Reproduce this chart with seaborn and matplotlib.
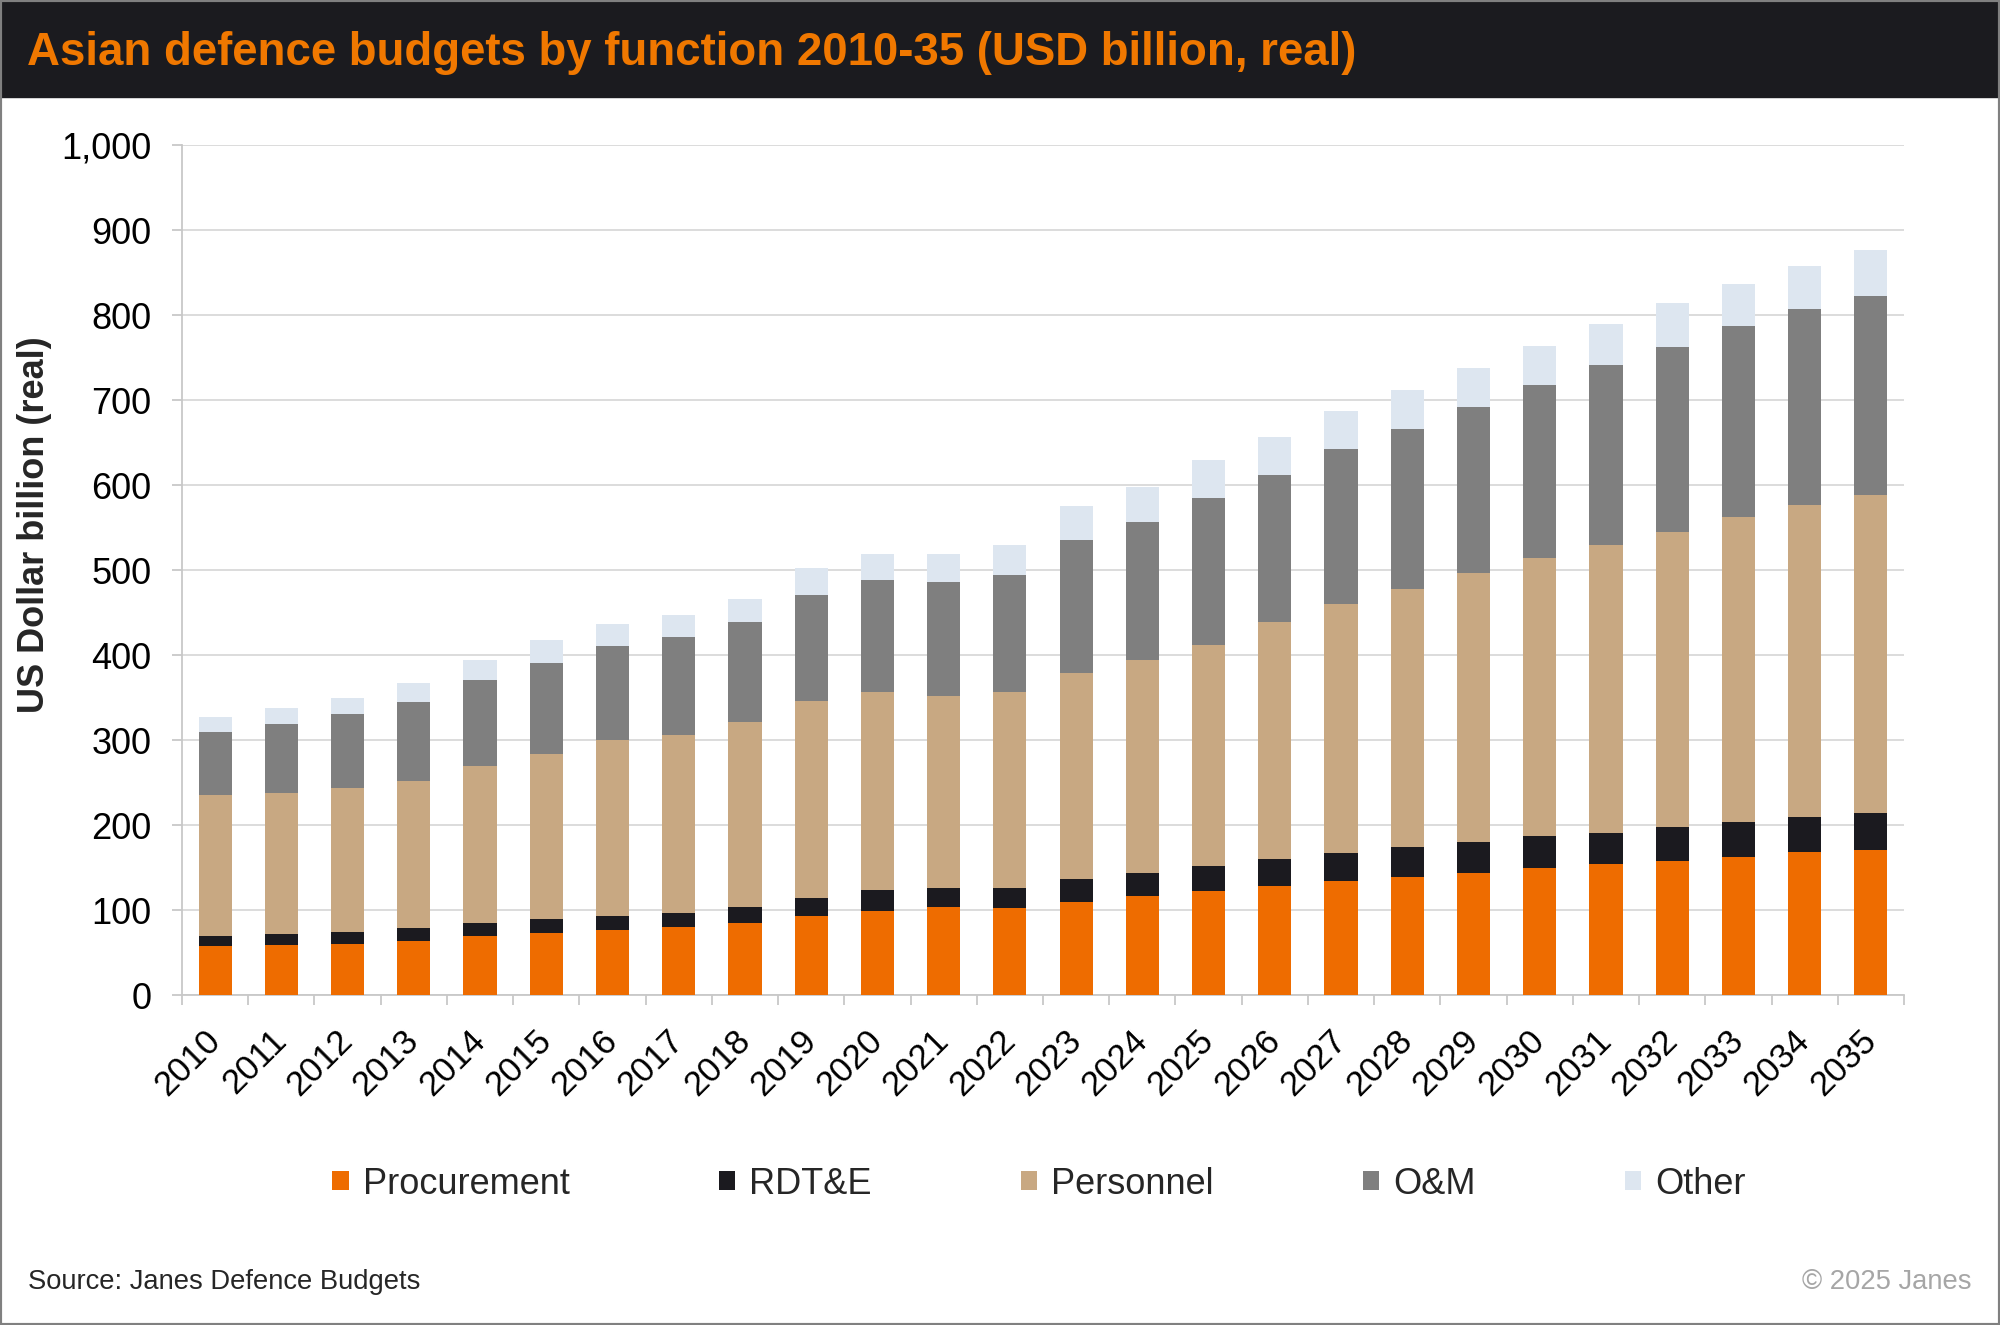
import matplotlib
matplotlib.use("Agg")
import matplotlib.pyplot as plt
from matplotlib.patches import Rectangle, Patch
from matplotlib.ticker import FuncFormatter, MultipleLocator
import numpy as np
import pandas as pd
import seaborn as sns

# values (USD billion, real)
years = [str(y) for y in range(2010, 2036)]
procurement = [58, 59, 60, 64, 69, 73, 77, 80, 85, 93, 99, 104, 102,
               110, 117, 122, 128, 134, 139, 144, 149, 154, 158, 163, 168, 171]
rdte = [12, 13, 14, 15, 16, 16, 16, 17, 19, 21, 25, 22, 24,
        27, 27, 30, 32, 33, 35, 36, 38, 37, 40, 41, 41, 43]
personnel = [165, 166, 170, 173, 184, 195, 207, 209, 217, 232, 232, 226, 230,
             242, 250, 260, 279, 293, 304, 317, 327, 339, 347, 358, 368, 374]
om = [75, 81, 87, 93, 102, 107, 111, 115, 118, 125, 132, 134, 138,
      156, 163, 173, 173, 182, 188, 195, 204, 211, 218, 225, 230, 235]
other = [17, 19, 19, 22, 23, 27, 25, 26, 27, 31, 31, 33, 36,
         40, 41, 44, 44, 45, 46, 46, 46, 48, 51, 50, 51, 53]

series = ["Procurement", "RDT&E", "Personnel", "O&M", "Other"]
colors = ["#EE6C00", "#1B1A1F", "#C8A882", "#7F7F7F", "#DDE6F0"]

df = pd.DataFrame({"year": years, "Procurement": procurement, "RDT&E": rdte,
                   "Personnel": personnel, "O&M": om, "Other": other})
cum = df[series].cumsum(axis=1)

sns.set_theme(style="white")
plt.rcParams["font.family"] = ["Liberation Sans", "DejaVu Sans"]

fig = plt.figure(figsize=(20, 13.25), dpi=100)
ax = fig.add_axes([0.091, 0.249, 0.861, 0.6415])

# stacked bars: draw cumulative totals from the top segment down
for name, col in reversed(list(zip(series, colors))):
    sns.barplot(x=df["year"], y=cum[name], color=col, width=0.5,
                linewidth=0, saturation=1, ax=ax, zorder=3)

ax.set_ylim(0, 1000)
ax.set_xlim(-0.5, len(years) - 0.5)
ax.yaxis.set_major_locator(MultipleLocator(100))
ax.yaxis.set_major_formatter(FuncFormatter(lambda v, p: f"{int(v):,}"))
ax.grid(axis="y", color="#D9D9D9", linewidth=1.3, zorder=0)
ax.set_axisbelow(True)
ax.set_xlabel("")
ax.set_ylabel("")

for s in ["top", "right"]:
    ax.spines[s].set_visible(False)
for s in ["left", "bottom"]:
    ax.spines[s].set_color("#C8C8C8")
    ax.spines[s].set_linewidth(1.3)

ax.tick_params(axis="y", labelsize=26, colors="#C8C8C8", labelcolor="black",
               length=7, width=1.3, left=True, pad=15)
ax.tick_params(axis="x", which="major", labelsize=25, labelcolor="black",
               length=0, pad=29)
ax.set_xticks(np.arange(-0.5, len(years), 1), minor=True)
ax.tick_params(axis="x", which="minor", bottom=True, length=7, width=1.3,
               color="#C8C8C8")
plt.setp(ax.get_xticklabels(), rotation=45, ha="right", va="center",
         rotation_mode="anchor")

# title band
fig.patches.append(Rectangle((0, 1 - 97 / 1325), 1, 97 / 1325,
                             transform=fig.transFigure, color="#1B1B1F", zorder=0))
fig.text(0.0135, 1 - 65 / 1325, "Asian defence budgets by function 2010-35 (USD billion, real)",
         color="#F07800", fontsize=32.85, fontweight="bold", va="baseline", ha="left")

fig.text(0.0175, 0.604, "US Dollar billion (real)", rotation=90, fontsize=26,
         fontweight="bold", ha="center", va="center")

handles = [Patch(facecolor=c, edgecolor="none", label=n) for n, c in zip(series, colors)]
fig.legend(handles=handles, loc="center", bbox_to_anchor=(0.5195, 0.1064), ncol=5,
           frameon=False, fontsize=26, handlelength=0.45, handleheight=0.45,
           handletextpad=0.4, columnspacing=4.12)

fig.text(0.014, 0.0325, "Source: Janes Defence Budgets", fontsize=19.7,
         ha="left", va="center")
fig.text(0.9855, 0.0325, "\u00a9 2025 Janes", fontsize=19.7, color="#A6A6A6",
         ha="right", va="center")

fig.patches.append(Rectangle((0, 0), 1, 1, transform=fig.transFigure, fill=False,
                             edgecolor="#808080", linewidth=3, zorder=5))

fig.savefig("out.png", dpi=100)
